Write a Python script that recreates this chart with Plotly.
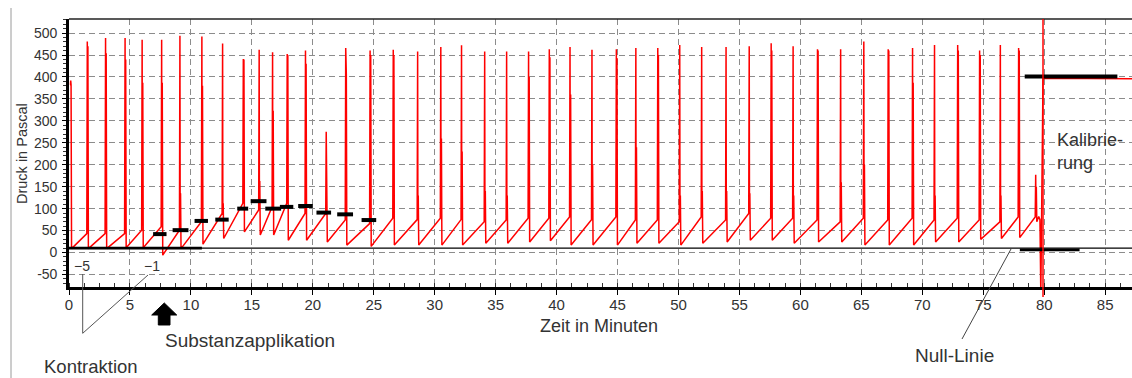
import plotly.graph_objects as go

# ---------------- data ----------------
# contraction spikes: time (min), peak (Pa), secondary spike (Pa),
# level just before the spike (Pa), trough after the spike (Pa)
spike_t = [0.12, 1.5, 3.0, 4.6, 6.0, 7.6, 9.1, 10.9, 12.6, 14.3, 15.6, 16.7, 17.9,
           19.4, 21.1, 22.7, 24.7, 26.6, 28.6, 30.5, 32.2, 34.1, 35.9, 37.7, 39.4,
           41.1, 42.9, 44.9, 46.5, 48.3, 50.1, 51.9, 53.9, 55.8, 57.6, 59.4, 61.4,
           63.3, 65.2, 67.2, 69.2, 71.0, 72.9, 74.7, 76.4, 77.9, 79.3]
spike_peak = [382, 481, 489, 489, 485, 485, 494, 492, 476, 441, 462, 456, 452,
              460, 275, 466, 460, 462, 458, 468, 472, 458, 458, 458, 463,
              468, 462, 463, 466, 466, 473, 468, 468, 470, 477, 470, 463,
              463, 481, 463, 466, 473, 473, 460, 473, 466, 177]
spike_second = [382, 470, 454, 440, 387, 387, 135, 380, 112, 440, 163, 323, 450,
                430, 165, 405, 450, 450, 130, 260, 230, 140, 130, 400, 445,
                360, 200, 443, 240, 450, 130, 140, 140, 135, 460, 130, 460,
                160, 200, 460, 387, 130, 460, 450, 130, 460, 150]
pre_level = [382, 43, 43, 43, 51, 59, 51, 70, 89, 112, 97, 104, 112,
             89, 89, 74, 66, 78, 75, 78, 75, 70, 74, 78, 78,
             81, 75, 81, 74, 74, 70, 81, 74, 89, 78, 78, 74,
             70, 78, 74, 78, 74, 78, 74, 70, 81, 81]
trough = [9, 9, 9, 11, 11, -6, 9, 19, 32, 47, 40, 40, 28,
          28, 24, 17, 14, 17, 17, 17, 17, 21, 21, 24, 27,
          17, 17, 17, 21, 21, 17, 21, 24, 28, 28, 21, 24,
          24, 17, 17, 17, 24, 24, 30, 32, 34, 70]
# end of recording and calibration step
tail_t = [79.55, 79.65, 79.72, 79.9, 80.05, 87.2]
tail_v = [82, 75, -95, 397, 397, 396]

# black level markers drawn on the trace
mark_start = [6.9, 8.5, 10.3, 12.0, 13.8, 14.9, 16.1, 17.3, 18.8, 20.3, 22.0, 24.0]
mark_end = [8.0, 9.8, 11.4, 13.1, 14.7, 16.2, 17.4, 18.4, 20.0, 21.5, 23.3, 25.2]
mark_level = [42, 51, 72, 75, 100, 117, 100, 104, 106, 91, 87, 74]

null_level = 10
null_thick_start = [0.0, 78.0]
null_thick_end = [10.9, 82.9]
null_thick_level = [10, 6]
calib_start, calib_end, calib_level = 78.4, 86.0, 401
cursor_t = 79.9

x_range = [0, 87.2]
y_range = [-78.5, 532]
y_tick_vals = [-50, 0, 50, 100, 150, 200, 250, 300, 350, 400, 450, 500]
y_tick_text = ["-50", "0", "50", "100", "150", "200", "250", "300", "350", "400", "450", "500"]

# ---------------- build the trace ----------------
xs, ys = [], []
for t, pk, sec, pre, tr in zip(spike_t, spike_peak, spike_second, pre_level, trough):
    xs += [t - 0.04, t, t + 0.02, t + 0.05, t + 0.09]
    ys += [pre, pk, pre + 10, sec, tr]
xs += tail_t
ys += tail_v

mx, my = [], []
for a, b, v in zip(mark_start, mark_end, mark_level):
    mx += [a, b, None]
    my += [v, v, None]

nx, ny = [], []
for a, b, v in zip(null_thick_start, null_thick_end, null_thick_level):
    nx += [a, b, None]
    ny += [v, v, None]

# ---------------- figure ----------------
W, H = 1132, 378
ML, MR, MT, MB = 69, 0, 19, 91
PW, PH = W - ML - MR, H - MT - MB


def px(x):
    return (x - ML) / PW


def py(y):
    return (H - MB - y) / PH


FONT = "Liberation Sans, Arial, sans-serif"
TXT = "#333333"

fig = go.Figure()
fig.add_trace(go.Scatter(x=xs, y=ys, mode="lines",
                         line=dict(color="#ff0000", width=1.5), hoverinfo="skip"))
fig.add_trace(go.Scatter(x=[x_range[0], x_range[1]], y=[null_level, null_level],
                         mode="lines", line=dict(color="black", width=1.3)))
fig.add_trace(go.Scatter(x=nx, y=ny, mode="lines", line=dict(color="black", width=2.8)))
fig.add_trace(go.Scatter(x=mx, y=my, mode="lines", line=dict(color="black", width=4)))
fig.add_trace(go.Scatter(x=[calib_start, calib_end], y=[calib_level, calib_level],
                         mode="lines", line=dict(color="black", width=4)))

shapes = [
    # outer frame line on the left of the picture
    dict(type="line", xref="paper", yref="paper", x0=px(11), x1=px(11), y0=py(8), y1=py(378),
         line=dict(color="#9a9a9a", width=1)),
    # top border
    dict(type="line", xref="paper", yref="paper", x0=0, x1=1, y0=1, y1=1,
         line=dict(color="#222", width=1.3)),
    # cursor line
    dict(type="line", xref="x", yref="paper", x0=cursor_t, x1=cursor_t, y0=py(297), y1=1,
         line=dict(color="#ff0000", width=1.5)),
    # Kontraktion pointer lines
    dict(type="line", xref="paper", yref="paper", x0=px(82.7), x1=px(82.7), y0=py(274), y1=py(333.3),
         line=dict(color="#555", width=1)),
    dict(type="line", xref="paper", yref="paper", x0=px(82.7), x1=px(148), y0=py(333.3), y1=py(275),
         line=dict(color="#555", width=1)),
    # Null-Linie pointer
    dict(type="line", xref="paper", yref="paper", x0=px(962), x1=px(1011), y0=py(339), y1=py(249),
         line=dict(color="#444", width=1)),
]
# arrow (Substanzapplikation)
arrow_pts = [(164.3, 303), (176.7, 315), (170, 315), (170, 325), (158.3, 325), (158.3, 315), (151.7, 315)]
path = "M " + " L ".join(f"{px(a):.5f},{py(b):.5f}" for a, b in arrow_pts) + " Z"
shapes.append(dict(type="path", xref="paper", yref="paper", path=path,
                   fillcolor="black", line=dict(color="black", width=1)))

annotations = [
    dict(text="Druck in Pascal", x=px(22), y=py(154), textangle=-90, font=dict(size=14.5)),
    dict(text="Zeit in Minuten", x=px(599), y=py(326), font=dict(size=18)),
    dict(text="\u22125", x=px(82), y=py(266), font=dict(size=14)),
    dict(text="\u22121", x=px(151.5), y=py(266), font=dict(size=14)),
    dict(text="Kontraktion", x=px(91.3), y=py(366.5), font=dict(size=18.5)),
    dict(text="Substanzapplikation", x=px(250), y=py(340.5), font=dict(size=19)),
    dict(text="Null-Linie", x=px(954), y=py(355.5), font=dict(size=19)),
    dict(text="Kalibrie-<br>rung", x=px(1055), y=py(151), xanchor="left", align="left",
         font=dict(size=18)),
]
for a in annotations:
    a.update(xref="paper", yref="paper", showarrow=False)
    a.setdefault("xanchor", "center")
    a.setdefault("yanchor", "middle")
    a["font"].update(family=FONT, color=TXT)

fig.update_layout(
    width=W, height=H,
    margin=dict(l=ML, r=MR, t=MT, b=MB, pad=0),
    paper_bgcolor="white", plot_bgcolor="white",
    showlegend=False,
    font=dict(family=FONT, color=TXT),
    shapes=shapes, annotations=annotations,
    xaxis=dict(range=x_range, dtick=5, tick0=0, showgrid=True, gridcolor="#8c8c8c",
               griddash="6px,4px", gridwidth=1, zeroline=False,
               showline=True, linecolor="black", linewidth=2.6,
               ticks="outside", ticklen=5, tickcolor="black", tickwidth=1,
               tickfont=dict(size=15, family=FONT, color=TXT), ticklabelstandoff=-3,
               minor=dict(dtick=1.25, ticks="inside", ticklen=4, tickcolor="#333", showgrid=False),
               fixedrange=True),
    yaxis=dict(range=y_range, tickmode="array", tickvals=y_tick_vals, ticktext=y_tick_text,
               showgrid=True, gridcolor="#8c8c8c",
               griddash="6px,4px", gridwidth=1, zeroline=False,
               showline=True, linecolor="black", linewidth=2.6,
               ticks="outside", ticklen=4, tickcolor="black", tickwidth=1,
               tickfont=dict(size=14, family=FONT, color=TXT), ticklabelstandoff=2,
               minor=dict(dtick=10, tick0=0, ticks="outside", ticklen=3, tickcolor="#333", showgrid=False),
               fixedrange=True),
)

fig.write_html("out.html")
